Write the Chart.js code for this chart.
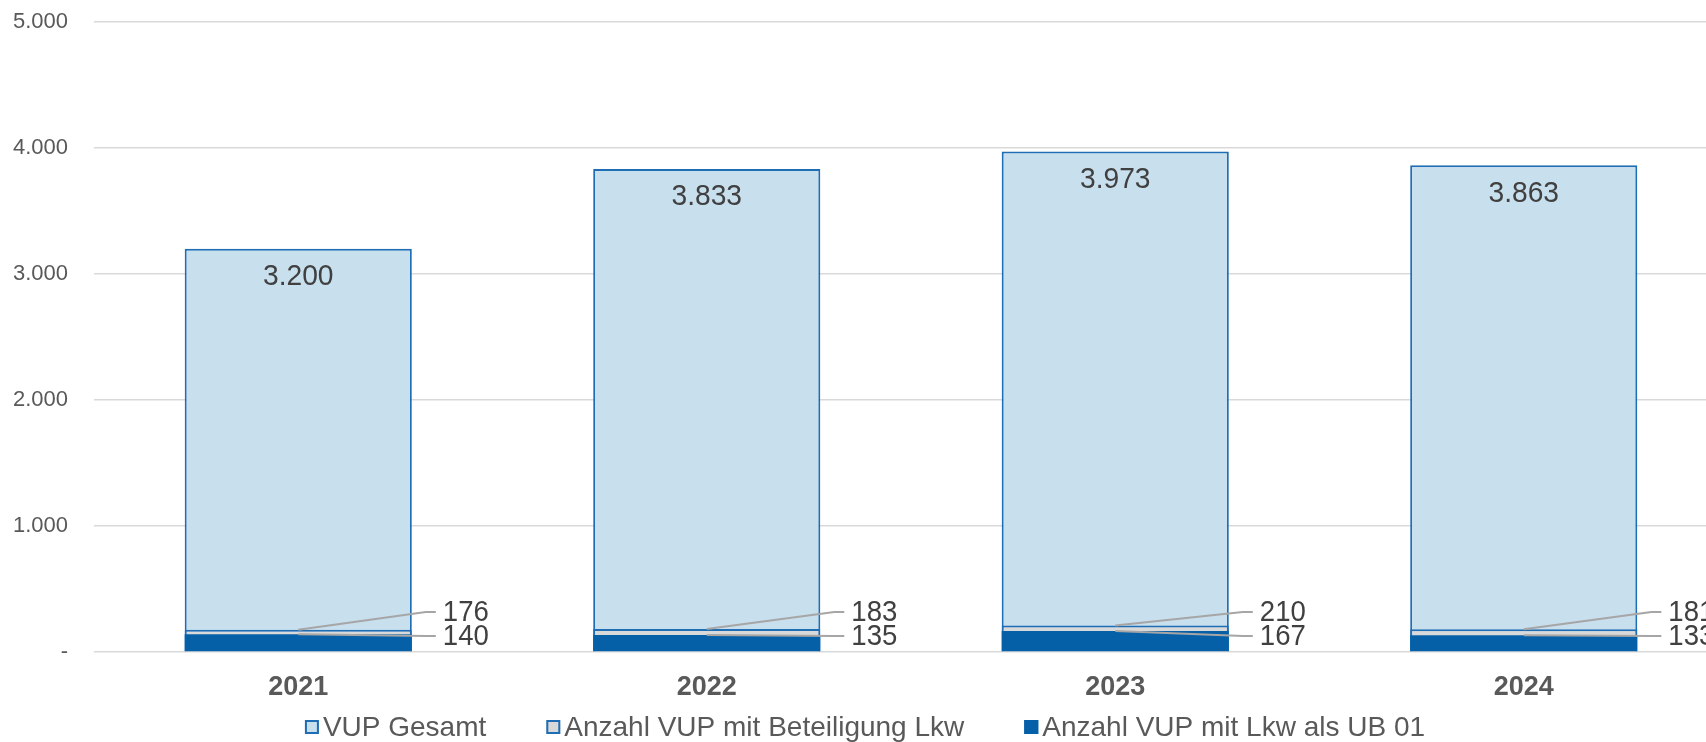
<!DOCTYPE html>
<html><head><meta charset="utf-8">
<script src="https://cdn.jsdelivr.net/npm/chart.js@4/dist/chart.umd.min.js"></script>
<style>
html,body{margin:0;padding:0;background:#fff;overflow:hidden;}
#wrap{position:absolute;left:0;top:0;width:1730px;height:742px;}
</style></head><body>
<div id="wrap"><canvas id="c"></canvas></div>
<script>
const categories = ['2021', '2022', '2023', '2024'];
const vupGesamt = [3200, 3833, 3973, 3863];
const vupBeteiligungLkw = [176, 183, 210, 181];
const vupLkwUB01 = [140, 135, 167, 133];
const yTickValues = [0, 1000, 2000, 3000, 4000, 5000];
const seriesNames = ['VUP Gesamt', 'Anzahl VUP mit Beteiligung Lkw', 'Anzahl VUP mit Lkw als UB 01'];

const FONT = '"Liberation Sans", Arial, Helvetica, sans-serif';
const BLUE = '#1f6db4';
const DARKBLUE = '#0660a7';
const LIGHTBLUE = '#c8dfee';
const GREY = '#d9d9d9';

function fmt(v) {
  if (v === 0) return '-';
  return String(v).replace(/\B(?=(\d{3})+(?!\d))/g, '.');
}

function narrowText(ctx, text, x, y, align, sx) {
  ctx.save();
  ctx.translate(x, y);
  ctx.scale(sx, 1);
  ctx.textAlign = align;
  ctx.fillText(text, 0, 0);
  ctx.restore();
}

const labelPlugin = {
  id: 'valueLabels',
  afterDatasetsDraw(chart) {
    const ctx = chart.ctx;
    const base = chart.scales.y.getPixelForValue(0);
    ctx.save();
    ctx.fillStyle = '#404040';
    ctx.textBaseline = 'middle';
    ctx.font = '30px ' + FONT;
    chart.getDatasetMeta(0).data.forEach((bar, i) => {
      narrowText(ctx, fmt(vupGesamt[i]), bar.x, bar.y + 28, 'center', 0.94);
    });
    ctx.font = '29px ' + FONT;
    const sets = [[1, vupBeteiligungLkw, -40], [2, vupLkwUB01, -16]];
    sets.forEach(([di, vals, off]) => {
      chart.getDatasetMeta(di).data.forEach((bar, i) => {
        const right = bar.x + bar.width / 2;
        const ly = base + off;
        ctx.strokeStyle = '#a6a6a6';
        ctx.lineWidth = 2;
        ctx.beginPath();
        ctx.moveTo(bar.x, bar.y);
        ctx.lineTo(right + 14, ly);
        ctx.lineTo(right + 24, ly);
        ctx.stroke();
        narrowText(ctx, fmt(vals[i]), right + 31, ly + 1, 'left', 0.95);
      });
    });
    ctx.restore();
  }
};

const legendPlugin = {
  id: 'customLegend',
  afterDraw(chart) {
    const ctx = chart.ctx;
    ctx.save();
    ctx.font = '28px ' + FONT;
    const box = 14, gap = 4, spacing = 60;
    const items = chart.data.datasets.map(ds => ({
      text: ds.label, fill: ds.backgroundColor, stroke: ds.legendStroke
    }));
    const widths = items.map(it => box + gap + ctx.measureText(it.text).width);
    const total = widths.reduce((a, b) => a + b, 0) + spacing * (items.length - 1);
    let x = chart.width / 2 - total / 2;
    const cy = chart.height - 15;
    items.forEach((it, i) => {
      ctx.fillStyle = it.fill;
      ctx.fillRect(x, cy - box / 2, box, box);
      ctx.strokeStyle = it.stroke;
      ctx.lineWidth = 2;
      ctx.strokeRect(x + 1, cy - box / 2 + 1, box - 2, box - 2);
      ctx.fillStyle = '#595959';
      ctx.textAlign = 'left';
      ctx.textBaseline = 'middle';
      ctx.fillText(it.text, x + box + gap, cy + 1);
      x += widths[i] + spacing;
    });
    ctx.restore();
  }
};

new Chart(document.getElementById('c'), {
  type: 'bar',
  data: {
    labels: categories,
    datasets: [
      { label: seriesNames[0], data: vupGesamt, backgroundColor: LIGHTBLUE, borderColor: BLUE, borderWidth: 2, legendStroke: BLUE, order: 3 },
      { label: seriesNames[1], data: vupBeteiligungLkw, backgroundColor: GREY, borderColor: BLUE, borderWidth: 2, legendStroke: BLUE, order: 2 },
      { label: seriesNames[2], data: vupLkwUB01, backgroundColor: DARKBLUE, borderColor: DARKBLUE, borderWidth: 0, legendStroke: DARKBLUE, order: 1 }
    ]
  },
  options: {
    responsive: true,
    maintainAspectRatio: false,
    animation: false,
    devicePixelRatio: 1,
    layout: { padding: { top: 22, bottom: 42, left: 0, right: 2 } },
    datasets: { bar: { grouped: false, categoryPercentage: 1, barPercentage: 0.556 } },
    plugins: { legend: { display: false }, tooltip: { enabled: false } },
    scales: {
      x: {
        grid: { display: false, drawTicks: false },
        border: { display: false },
        ticks: { color: '#595959', font: { family: FONT, size: 27, weight: 'bold' }, padding: 19 },
        afterFit(s) { s.height = 48; }
      },
      y: {
        min: 0, max: 5000,
        afterBuildTicks(s) { s.ticks = yTickValues.map(v => ({ value: v })); },
        grid: { color: '#d9d9d9', lineWidth: 1.5, drawTicks: false },
        border: { display: false },
        ticks: { color: '#595959', font: { family: FONT, size: 22 }, padding: 26, callback: v => fmt(v) },
        afterFit(s) { s.width = 94; s.paddingTop = 0; s.paddingBottom = 0; }
      }
    }
  },
  plugins: [labelPlugin, legendPlugin]
});
</script>
</body></html>
